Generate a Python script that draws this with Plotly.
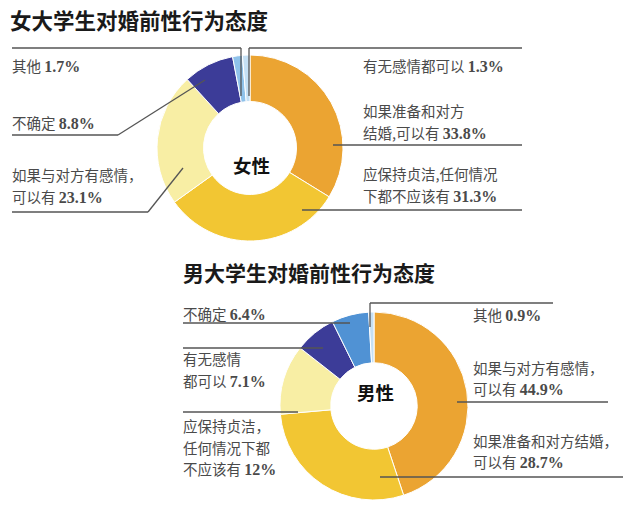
import plotly.graph_objects as go

W, H = 640, 514

# female survey (clockwise from 12 o'clock)
f_labels = ['如果准备和对方结婚,可以有', '应保持贞洁,任何情况下都不应该有', '如果与对方有感情,可以有',
            '不确定', '其他', '有无感情都可以']
f_values = [33.8, 31.3, 23.1, 8.8, 1.7, 1.3]
f_colors = ['#EBA432', '#F2C633', '#F8EEA4', '#3C3C98', '#8FC2EA', '#C5E0F4']

# male survey (clockwise from 12 o'clock)
m_labels = ['如果与对方有感情,可以有', '如果准备和对方结婚,可以有', '应保持贞洁,任何情况下都不应该有',
            '有无感情都可以', '不确定', '其他']
m_values = [44.9, 28.7, 12, 7.1, 6.4, 0.9]
m_colors = ['#EBA432', '#F2C633', '#F8EEA4', '#3C3C98', '#5092D4', '#C5E0F4']

CJK = 'Noto Sans CJK SC'
NUM = 'Liberation Serif'


def px(x, y):
    # pixel -> paper coords
    return x / W, 1 - y / H


def num(v):
    return "<span style='font-family:%s;font-size:16px'><b>%s%%</b></span>" % (NUM, v)


fig = go.Figure()
fig.add_trace(go.Pie(values=f_values, labels=f_labels, hole=0.5, sort=False, direction='clockwise',
                     rotation=0, textinfo='none', hoverinfo='label+value',
                     marker=dict(colors=f_colors, line=dict(color='white', width=1)),
                     domain=dict(x=[157 / W, 343 / W], y=[1 - 243 / H, 1 - 53 / H])))
fig.add_trace(go.Pie(values=m_values, labels=m_labels, hole=0.46, sort=False, direction='clockwise',
                     rotation=0, textinfo='none', hoverinfo='label+value',
                     marker=dict(colors=m_colors, line=dict(color='white', width=1)),
                     domain=dict(x=[280 / W, 468 / W], y=[1 - 502 / H, 1 - 310 / H])))

shapes = []


def seg(pts, color='#555', w=1.3):
    for (x0, y0), (x1, y1) in zip(pts[:-1], pts[1:]):
        a0, b0 = px(x0, y0)
        a1, b1 = px(x1, y1)
        shapes.append(dict(type='line', xref='paper', yref='paper', x0=a0, y0=b0, x1=a1, y1=b1,
                           line=dict(color=color, width=w)))


# female leader lines
seg([(12, 48), (241, 48), (241, 96)])
seg([(249, 96), (249, 48), (522, 48)])
seg([(12, 135), (118, 135), (205, 80)])
seg([(12, 212), (148, 212), (183, 168)])
seg([(333, 145), (522, 145)])
seg([(302, 210), (522, 210)])
# male leader lines
seg([(183, 323), (350, 323)])
seg([(183, 348), (323, 348)])
seg([(183, 412), (298, 412)])
seg([(370, 327), (370, 303), (553, 303)])
seg([(457, 402), (608, 402)])
seg([(380, 477), (623, 477)])

ann = []


def txt(x, y, s, size=14.5, color='#4a4a4a'):
    a, b = px(x, y)
    ann.append(dict(x=a, y=b, xref='paper', yref='paper', text=s, showarrow=False,
                    xanchor='left', yanchor='middle', align='left',
                    font=dict(family=CJK, size=size, color=color)))


# titles
txt(8, 20, '<b>女大学生对婚前性行为态度</b>', size=21.5, color='#1a1a1a')
txt(181, 272, '<b>男大学生对婚前性行为态度</b>', size=21, color='#1a1a1a')

# female labels
txt(10, 65, '其他 ' + num(1.7))
txt(10, 122, '不确定 ' + num(8.8))
txt(10, 174, '如果与对方有感情，')
txt(10, 197, '可以有 ' + num(23.1))
txt(361, 65, '有无感情都可以 ' + num(1.3))
txt(361, 110, '如果准备和对方')
txt(361, 132, '结婚,可以有 ' + num(33.8))
txt(361, 173, '应保持贞洁,任何情况')
txt(361, 195, '下都不应该有 ' + num(31.3))

# male labels
txt(181, 313, '不确定 ' + num(6.4))
txt(181, 358, '有无感情')
txt(181, 380, '都可以 ' + num(7.1))
txt(181, 425, '应保持贞洁，')
txt(181, 447, '任何情况下都')
txt(181, 468, '不应该有 ' + num(12))
txt(471, 314, '其他 ' + num(0.9))
txt(471, 367, '如果与对方有感情，')
txt(471, 388, '可以有 ' + num(44.9))
txt(471, 440, '如果准备和对方结婚，')
txt(471, 461, '可以有 ' + num(28.7))

# centre labels
a, b = px(251, 150)
ann.append(dict(x=a, y=b, xref='paper', yref='paper', text='<b>女性</b>', showarrow=False,
                font=dict(family=CJK, size=18.5, color='#111')))
a, b = px(375, 407)
ann.append(dict(x=a, y=b, xref='paper', yref='paper', text='<b>男性</b>', showarrow=False,
                font=dict(family=CJK, size=18.5, color='#111')))

fig.update_layout(width=W, height=H, margin=dict(l=0, r=0, t=0, b=0), showlegend=False,
                  paper_bgcolor='white', plot_bgcolor='white', shapes=shapes, annotations=ann)

# drop the browser's default body margin so the figure sits at the page corner
fig.write_html("out.html", config={'displayModeBar': False},
               post_script="document.body.style.margin='0';")
